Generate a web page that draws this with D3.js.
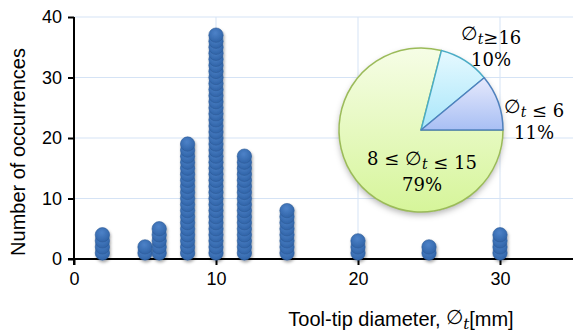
<!DOCTYPE html>
<html>
<head>
<meta charset="utf-8">
<script src="https://cdn.jsdelivr.net/npm/d3@7"></script>
<style>
  body { margin: 0; background: #fff; }
  svg { display: block; }
  .tick text { font-family: "Liberation Sans", Arial, sans-serif; font-size: 18px; fill: #000; }
</style>
</head>
<body>
<script>
// tool-tip diameters and how many times each one occurs
diameters = [2, 5, 6, 8, 10, 12, 15, 20, 25, 30];
counts = [4, 2, 5, 19, 37, 17, 8, 3, 2, 4];

// pie: share of each diameter group
pieGroups = ["mid", "big", "small"];
pieShares = [79, 10, 11];

xTicks = [0, 10, 20, 30];
yTicks = [0, 10, 20, 30, 40];

width = 573;
height = 334;

svg = d3.select("body")
  .append("svg")
  .attr("width", width)
  .attr("height", height);

defs = svg.append("defs");

let shadow = defs.append("filter").attr("id", "shadow")
  .attr("x", "-50%").attr("y", "-50%").attr("width", "200%").attr("height", "200%");
shadow.append("feDropShadow")
  .attr("dx", 1).attr("dy", 2).attr("stdDeviation", 1.5)
  .attr("flood-color", "#000").attr("flood-opacity", 0.35);

let pieShadow = defs.append("filter").attr("id", "pieShadow")
  .attr("x", "-20%").attr("y", "-20%").attr("width", "140%").attr("height", "140%");
pieShadow.append("feDropShadow")
  .attr("dx", 0).attr("dy", 3).attr("stdDeviation", 3)
  .attr("flood-color", "#000").attr("flood-opacity", 0.3);

let dotGrad = defs.append("radialGradient").attr("id", "dotGrad")
  .attr("cx", "45%").attr("cy", "35%").attr("r", "65%");
dotGrad.append("stop").attr("offset", "0%").attr("stop-color", "#4d82c8");
dotGrad.append("stop").attr("offset", "100%").attr("stop-color", "#3064a8");

let pieColors = {
  mid: ["#f6fde6", "#d6f59a", "#9bbb59"],
  big: ["#e6f9ff", "#a8e6fa", "#4bacc6"],
  small: ["#e6e9fc", "#a8bff4", "#4f81bd"]
};
pieGroups.forEach(g => {
  let lg = defs.append("linearGradient").attr("id", "grad-" + g)
    .attr("x1", 0).attr("y1", 0).attr("x2", 0).attr("y2", 1);
  lg.append("stop").attr("offset", "0%").attr("stop-color", pieColors[g][0]);
  lg.append("stop").attr("offset", "100%").attr("stop-color", pieColors[g][1]);
});

let plotLeft = 74, plotRight = 571, plotTop = 17, plotBottom = 259;

let xScale = d3.scaleLinear().domain([0, 35]).range([plotLeft, plotRight]);
let yScale = d3.scaleLinear().domain([0, 40]).range([plotBottom, plotTop]);

// gridlines
svg.append("g")
  .selectAll("line")
  .data(yTicks.slice(1))
  .enter()
  .append("line")
  .attr("x1", plotLeft).attr("x2", width)
  .attr("y1", d => yScale(d)).attr("y2", d => yScale(d))
  .attr("stroke", "#d5e3f5").attr("stroke-width", 1);

svg.append("g")
  .selectAll("line")
  .data(xTicks.slice(1))
  .enter()
  .append("line")
  .attr("x1", d => xScale(d)).attr("x2", d => xScale(d))
  .attr("y1", plotTop).attr("y2", plotBottom)
  .attr("stroke", "#d5e3f5").attr("stroke-width", 1);

// axes
let xAxis = d3.axisBottom(xScale).tickValues(xTicks).tickSize(6).tickPadding(7);
let gx = svg.append("g")
  .attr("transform", `translate(0, ${plotBottom})`)
  .call(xAxis);
gx.select(".domain").remove();
gx.selectAll(".tick line").attr("stroke", "#000").attr("stroke-width", 2);
gx.append("line")
  .attr("x1", plotLeft - 6).attr("x2", width)
  .attr("y1", 0).attr("y2", 0)
  .attr("stroke", "#000").attr("stroke-width", 2);

let yAxis = d3.axisLeft(yScale).tickValues(yTicks).tickSize(6).tickPadding(6);
let gy = svg.append("g")
  .attr("transform", `translate(${plotLeft}, 0)`)
  .call(yAxis);
gy.select(".domain").remove();
gy.selectAll(".tick line").attr("stroke", "#000").attr("stroke-width", 2);
gy.append("line")
  .attr("x1", 0).attr("x2", 0)
  .attr("y1", plotTop).attr("y2", plotBottom + 6)
  .attr("stroke", "#000").attr("stroke-width", 2);

// stacked dots, one per occurrence
let points = [];
diameters.forEach((d, i) => {
  for (let k = 1; k <= counts[i]; k++) points.push({ d: d, n: k });
});

svg.append("g")
  .attr("filter", "url(#shadow)")
  .selectAll("circle")
  .data(points)
  .enter()
  .append("circle")
  .attr("cx", p => xScale(p.d))
  .attr("cy", p => yScale(p.n))
  .attr("r", 7.2)
  .attr("fill", "url(#dotGrad)")
  .attr("stroke", "#2b5a97")
  .attr("stroke-width", 0.6);

// axis titles
svg.append("text")
  .attr("transform", "translate(25, 152) rotate(-90)")
  .attr("text-anchor", "middle")
  .style("font-family", "Liberation Sans, Arial, sans-serif")
  .style("font-size", "20px")
  .text("Number of occurrences");

let xt = svg.append("text")
  .attr("x", 401).attr("y", 326)
  .attr("text-anchor", "middle")
  .style("font-family", "Liberation Sans, Arial, sans-serif")
  .style("font-size", "20px");
xt.append("tspan").text("Tool-tip diameter, ");
xt.append("tspan").attr("dy", -2).style("font-family", "DejaVu Serif, serif").style("font-size", "20px").text("∅");
xt.append("tspan").attr("dy", 5).style("font-family", "DejaVu Serif, serif")
  .style("font-style", "italic").style("font-size", "15px").text("t");
xt.append("tspan").attr("dy", -3).text("[mm]");

// pie inset
let cx = 421, cy = 130, r = 82;
let pie = d3.pie().sort(null)
  .startAngle(Math.PI / 2).endAngle(Math.PI / 2 + 2 * Math.PI)
  .value((d, i) => pieShares[i]);
let arc = d3.arc().innerRadius(0).outerRadius(r);

let gp = svg.append("g").attr("transform", `translate(${cx}, ${cy})`);
gp.append("circle").attr("r", r).attr("fill", "#fff").attr("filter", "url(#pieShadow)");
gp.selectAll("path")
  .data(pie(pieGroups))
  .enter()
  .append("path")
  .attr("d", arc)
  .attr("fill", d => "url(#grad-" + d.data + ")")
  .attr("stroke", d => pieColors[d.data][2])
  .attr("stroke-width", 1.5)
  .attr("stroke-linejoin", "round");

// pie labels
let serif = "DejaVu Serif, serif";
function phiT(sel) {
  sel.append("tspan").style("font-size", "19px").text("∅");
  sel.append("tspan").attr("dy", 4).style("font-style", "italic").style("font-size", "14px").text("t");
  sel.append("tspan").attr("dy", -4);
}
function label(x, y, before, after, pct) {
  let t = svg.append("text")
    .attr("x", x).attr("y", y)
    .attr("text-anchor", "middle")
    .style("font-family", serif)
    .style("font-size", "18px");
  if (before) t.append("tspan").text(before);
  phiT(t);
  t.append("tspan").text(after);
  svg.append("text")
    .attr("x", x).attr("y", y + 26)
    .attr("text-anchor", "middle")
    .style("font-family", serif)
    .style("font-size", "18px")
    .text(pct + "%");
}
label(422, 165, "8 ≤ ", " ≤ 15", pieShares[0]);
label(491, 40, "", "≥16", pieShares[1]);
label(534, 113, "", " ≤ 6", pieShares[2]);
</script>
</body>
</html>
